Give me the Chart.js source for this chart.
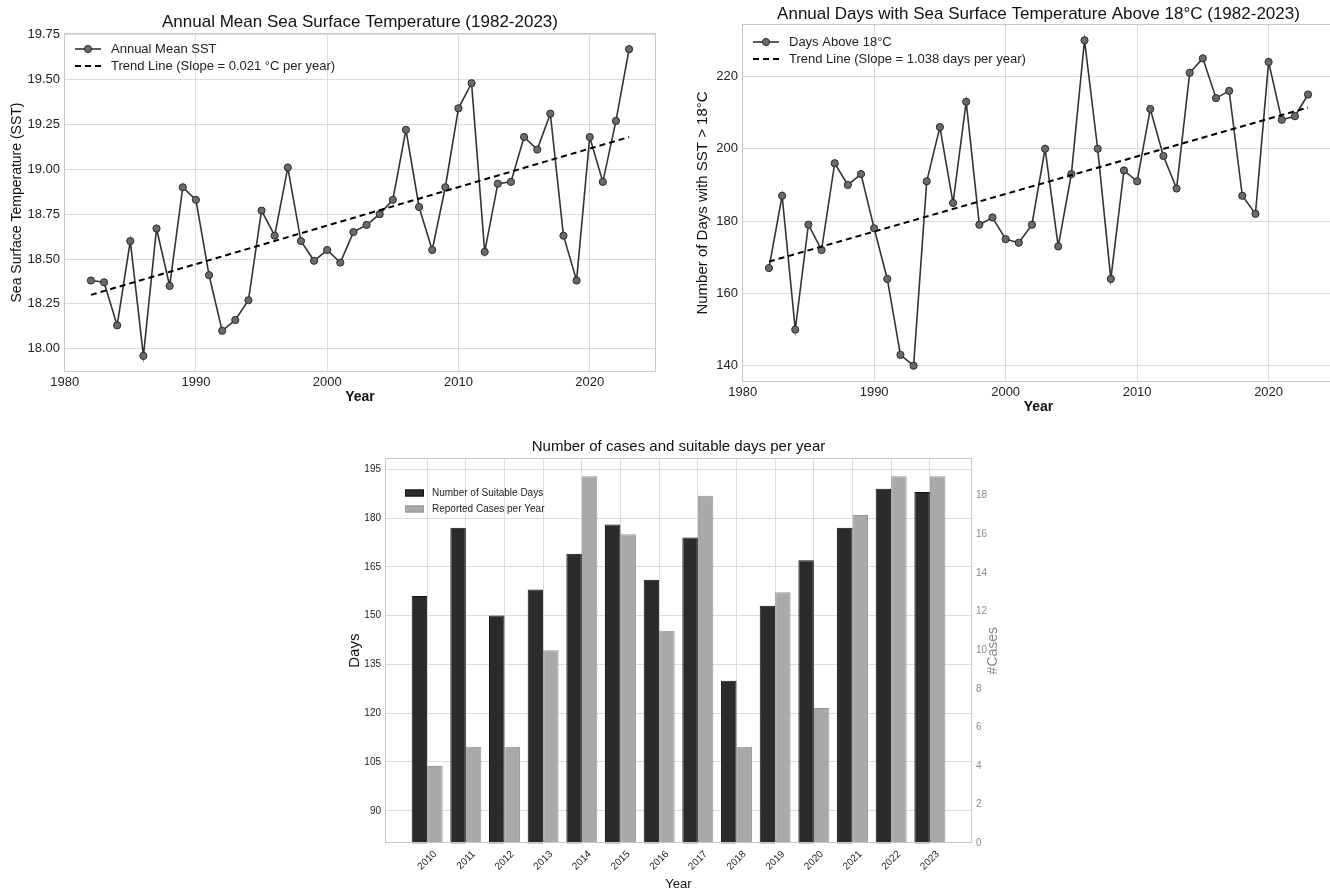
<!DOCTYPE html>
<html>
<head>
<meta charset="utf-8">
<title>Sea surface temperature and cases</title>
<script src="https://cdn.jsdelivr.net/npm/chart.js@4.4.1/dist/chart.umd.min.js"></script>
<style>
  html, body { margin: 0; padding: 0; background: #fff; overflow: hidden; }
  body { width: 1330px; height: 890px; position: relative; }
  canvas { position: absolute; }
</style>
</head>
<body>
<canvas id="sstChart" width="665" height="415" style="left:0;top:0"></canvas>
<canvas id="daysChart" width="660" height="420" style="left:680px;top:0"></canvas>
<canvas id="casesChart" width="680" height="470" style="left:340px;top:425px"></canvas>
<script>
// ---- data ----
const years = [1982, 1983, 1984, 1985, 1986, 1987, 1988, 1989, 1990, 1991,
               1992, 1993, 1994, 1995, 1996, 1997, 1998, 1999, 2000, 2001,
               2002, 2003, 2004, 2005, 2006, 2007, 2008, 2009, 2010, 2011,
               2012, 2013, 2014, 2015, 2016, 2017, 2018, 2019, 2020, 2021,
               2022, 2023];
const sstValues = [18.38, 18.37, 18.13, 18.60, 17.96, 18.67, 18.35, 18.90, 18.83, 18.41,
                   18.10, 18.16, 18.27, 18.77, 18.63, 19.01, 18.60, 18.49, 18.55, 18.48,
                   18.65, 18.69, 18.75, 18.83, 19.22, 18.79, 18.55, 18.90, 19.34, 19.48,
                   18.54, 18.92, 18.93, 19.18, 19.11, 19.31, 18.63, 18.38, 19.18, 18.93,
                   19.27, 19.67];
const sstTrend = [18.30, 19.18];          // trend line at first and last year
const daysAbove = [167, 187, 150, 179, 172, 196, 190, 193, 178, 164,
                   143, 140, 191, 206, 185, 213, 179, 181, 175, 174,
                   179, 200, 173, 193, 230, 200, 164, 194, 191, 211,
                   198, 189, 221, 225, 214, 216, 187, 182, 224, 208,
                   209, 215];
const daysTrend = [168.8, 211.4];
const trendYears = [1982, 2023];

const caseYears = [2010, 2011, 2012, 2013, 2014, 2015, 2016, 2017, 2018, 2019, 2020, 2021, 2022, 2023];
const suitableDays = [156, 177, 150, 158, 169, 178, 161, 174, 130, 153, 167, 177, 189, 188];
const reportedCases = [4, 5, 5, 10, 19, 16, 11, 18, 5, 13, 7, 17, 19, 19];

const decadeTicks = [1980, 1990, 2000, 2010, 2020];
const sstTicks = [18.00, 18.25, 18.50, 18.75, 19.00, 19.25, 19.50, 19.75];
const daysTicks = [140, 160, 180, 200, 220];
const suitableTicks = [90, 105, 120, 135, 150, 165, 180, 195];
const caseTicks = [0, 2, 4, 6, 8, 10, 12, 14, 16, 18];

// ---- helpers ----
const SANS = "'Liberation Sans', Arial, sans-serif";
const GRID = '#dcdcdc';
const FRAME = '#c8c8c8';

const pts = (xs, ys) => xs.map((x, i) => ({x: x, y: ys[i]}));
const fixTicks = list => axis => { axis.ticks = list.map(v => ({value: v})); };
const fixWidth = w => scale => { scale.width = w; };
const fixHeight = h => scale => { scale.height = h; };

// title over the plot, frame round it, legend inside it, extra side label
const decor = {
  id: 'decor',
  afterDraw(chart, args, o) {
    const ctx = chart.ctx, a = chart.chartArea;
    ctx.save();
    if (o.frame) {
      ctx.strokeStyle = o.frame;
      ctx.lineWidth = 1;
      ctx.strokeRect(Math.round(a.left) + 0.5, Math.round(a.top) + 0.5,
                     Math.round(a.width) - 1, Math.round(a.height) - 1);
    }
    if (o.title) {
      ctx.font = o.title.font;
      ctx.fillStyle = '#111';
      ctx.textAlign = 'center';
      ctx.textBaseline = 'middle';
      ctx.fillText(o.title.text, (a.left + a.right) / 2, o.title.y);
    }
    if (o.legend) {
      const L = o.legend;
      ctx.font = L.font;
      ctx.textAlign = 'left';
      ctx.textBaseline = 'middle';
      chart.data.datasets.forEach((ds, i) => {
        const x = a.left + L.x, y = a.top + L.y + i * L.gap;
        if (chart.config.type === 'bar') {
          ctx.fillStyle = ds.backgroundColor;
          ctx.fillRect(x, y - L.h / 2, L.w, L.h);
          ctx.strokeStyle = ds.borderColor;
          ctx.lineWidth = 1;
          ctx.strokeRect(x + 0.5, y - L.h / 2 + 0.5, L.w - 1, L.h - 1);
        } else {
          ctx.strokeStyle = ds.borderColor;
          ctx.lineWidth = ds.borderWidth;
          ctx.setLineDash(ds.borderDash || []);
          ctx.beginPath();
          ctx.moveTo(x, y);
          ctx.lineTo(x + L.w, y);
          ctx.stroke();
          ctx.setLineDash([]);
          if (ds.pointRadius) {
            ctx.beginPath();
            ctx.arc(x + L.w / 2, y, ds.pointRadius, 0, Math.PI * 2);
            ctx.fillStyle = ds.pointBackgroundColor;
            ctx.fill();
            ctx.lineWidth = ds.pointBorderWidth;
            ctx.strokeStyle = ds.pointBorderColor;
            ctx.stroke();
          }
        }
        ctx.fillStyle = '#222';
        ctx.fillText(ds.label, x + L.w + L.pad, y);
      });
    }
    if (o.sideLabel) {
      const s = o.sideLabel;
      ctx.font = s.font;
      ctx.fillStyle = s.color;
      ctx.textAlign = 'center';
      ctx.textBaseline = 'middle';
      ctx.translate(s.x, (a.top + a.bottom) / 2);
      ctx.rotate(-Math.PI / 2);
      ctx.fillText(s.text, 0, 0);
    }
    ctx.restore();
  }
};

const lineSet = (label, data) => ({
  label: label,
  data: data,
  borderColor: '#333',
  borderWidth: 1.6,
  pointRadius: 3.6,
  pointBackgroundColor: '#6a6a6a',
  pointBorderColor: '#2a2a2a',
  pointBorderWidth: 1,
  tension: 0,
  order: 1
});
const trendSet = (label, data) => ({
  label: label,
  data: data,
  borderColor: '#000',
  borderWidth: 2,
  borderDash: [6, 4],
  pointRadius: 0,
  tension: 0,
  order: -1
});

function lineOptions(cfg) {
  return {
    responsive: false,
    animation: false,
    events: [],
    layout: {padding: {top: cfg.top, right: cfg.right, left: 0, bottom: 0}},
    scales: {
      x: {
        type: 'linear', min: 1979.95, max: 2025.05,
        afterBuildTicks: fixTicks(decadeTicks),
        afterFit: fixHeight(cfg.xHeight),
        grid: {color: GRID, drawTicks: false},
        border: {display: false},
        ticks: {color: '#222', padding: 3, font: {family: SANS, size: 13},
                callback: v => String(v)},
        title: {display: true, text: 'Year', color: '#111',
                font: {family: SANS, size: 14, weight: 'bold'},
                padding: {top: 0, bottom: cfg.xTitlePad}}
      },
      y: {
        min: cfg.yMin, max: cfg.yMax,
        afterBuildTicks: fixTicks(cfg.yTicks),
        afterFit: fixWidth(cfg.yWidth),
        grid: {color: GRID, drawTicks: false},
        border: {display: false},
        ticks: {color: '#222', padding: 4, font: {family: SANS, size: 13},
                callback: cfg.fmt},
        title: {display: true, text: cfg.yTitle, color: '#111',
                font: {family: SANS, size: cfg.yTitleSize},
                padding: {top: cfg.yTitlePad, bottom: 0}}
      }
    },
    plugins: {
      legend: {display: false},
      tooltip: {enabled: false},
      decor: {
        frame: FRAME,
        title: {text: cfg.title, y: cfg.titleY, font: '17px ' + SANS},
        legend: {x: 11, y: cfg.legendY, gap: 17, w: 26, pad: 10, font: '13px ' + SANS}
      }
    }
  };
}

// ---- chart 1: annual mean SST ----
new Chart(document.getElementById('sstChart'), {
  type: 'line',
  data: {
    datasets: [
      lineSet('Annual Mean SST', pts(years, sstValues)),
      trendSet('Trend Line (Slope = 0.021 °C per year)', pts(trendYears, sstTrend))
    ]
  },
  options: lineOptions({
    top: 33, right: 9, xHeight: 43, xTitlePad: 9.6,
    yMin: 17.87, yMax: 19.76, yTicks: sstTicks, yWidth: 64,
    fmt: v => v.toFixed(2),
    yTitle: 'Sea Surface Temperature (SST)', yTitleSize: 14, yTitlePad: 8.6,
    title: 'Annual Mean Sea Surface Temperature (1982-2023)', titleY: 22,
    legendY: 16
  }),
  plugins: [decor]
});

// ---- chart 2: days above 18 °C ----
new Chart(document.getElementById('daysChart'), {
  type: 'line',
  data: {
    datasets: [
      lineSet('Days Above 18°C', pts(years, daysAbove)),
      trendSet('Trend Line (Slope = 1.038 days per year)', pts(trendYears, daysTrend))
    ]
  },
  options: lineOptions({
    top: 24, right: 0, xHeight: 38, xTitlePad: 4.9,
    yMin: 135.5, yMax: 234.5, yTicks: daysTicks, yWidth: 62,
    fmt: v => v,
    yTitle: 'Number of Days with SST > 18°C', yTitleSize: 15, yTitlePad: 14,
    title: 'Annual Days with Sea Surface Temperature Above 18°C (1982-2023)', titleY: 14,
    legendY: 18
  }),
  plugins: [decor]
});

// ---- chart 3: suitable days and reported cases ----
new Chart(document.getElementById('casesChart'), {
  type: 'bar',
  data: {
    datasets: [
      {
        label: 'Number of Suitable Days',
        data: pts(caseYears, suitableDays),
        yAxisID: 'y',
        backgroundColor: '#2b2b2b',
        borderColor: '#111',
        borderWidth: 1,
        categoryPercentage: 0.8,
        barPercentage: 1.0
      },
      {
        label: 'Reported Cases per Year',
        data: pts(caseYears, reportedCases),
        yAxisID: 'y1',
        backgroundColor: '#a9a9a9',
        borderColor: '#969696',
        borderWidth: 1,
        categoryPercentage: 0.8,
        barPercentage: 1.0
      }
    ]
  },
  options: {
    responsive: false,
    animation: false,
    events: [],
    layout: {padding: {top: 33, right: 0, left: 0, bottom: 0}},
    scales: {
      x: {
        type: 'linear', min: 2008.91, max: 2024.09,
        offset: false,
        afterBuildTicks: fixTicks(caseYears),
        afterFit: fixHeight(51.7),
        grid: {color: GRID, drawTicks: false, offset: false},
        border: {display: false},
        ticks: {color: '#222', padding: 5, minRotation: 45, maxRotation: 45,
                labelOffset: 8, font: {family: SANS, size: 10}, callback: v => String(v)},
        title: {display: true, text: 'Year', color: '#111',
                font: {family: SANS, size: 13}, padding: {top: 0, bottom: 3}}
      },
      y: {
        position: 'left',
        min: 80, max: 198.45,
        afterBuildTicks: fixTicks(suitableTicks),
        afterFit: fixWidth(45),
        grid: {color: GRID, drawTicks: false},
        border: {display: false},
        ticks: {color: '#222', padding: 4, font: {family: SANS, size: 10}},
        title: {display: true, text: 'Days', color: '#111',
                font: {family: SANS, size: 15}, padding: {top: 6, bottom: 0}}
      },
      y1: {
        position: 'right',
        min: 0, max: 19.95,
        afterBuildTicks: fixTicks(caseTicks),
        afterFit: fixWidth(48),
        grid: {drawOnChartArea: false, drawTicks: false},
        border: {display: false},
        ticks: {color: '#8a8a8a', padding: 4, font: {family: SANS, size: 10}}
      }
    },
    plugins: {
      legend: {display: false},
      tooltip: {enabled: false},
      decor: {
        frame: FRAME,
        title: {text: 'Number of cases and suitable days per year', y: 21.7, font: '15px ' + SANS},
        legend: {x: 20, y: 35, gap: 16, w: 19, h: 7, pad: 8, font: '10px ' + SANS},
        sideLabel: {text: '#Cases', x: 653, color: '#8a8a8a', font: '14px ' + SANS}
      }
    }
  },
  plugins: [decor]
});
</script>
</body>
</html>
